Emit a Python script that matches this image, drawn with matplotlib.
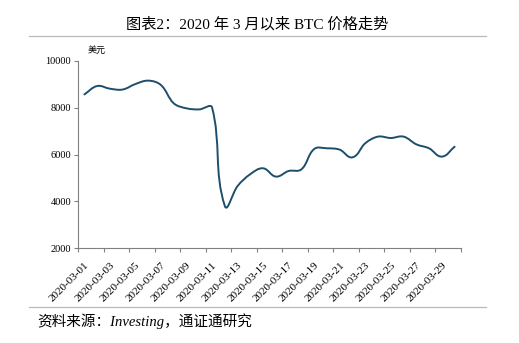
import matplotlib
matplotlib.use("Agg")
import matplotlib.pyplot as plt
from matplotlib.path import Path
from matplotlib.patches import PathPatch
import numpy as np

dates = ["2020-03-%02d" % d for d in range(1, 31)]
prices = [8570, 8930, 8815, 8780, 9015, 9160, 8970, 8190, 7975, 7930,
          8010, 3800, 4650, 5160, 5410, 5055, 5295, 5365, 6235, 6265,
          6206, 5880, 6480, 6765, 6705, 6765, 6435, 6265, 5910, 6335]
yticks = [2000, 4000, 6000, 8000, 10000]

title = "图表2：2020 年 3 月以来 BTC 价格走势"
unit = "美元"
source = "资料来源：Investing，通证通研究"

serif = ["Liberation Serif", "Noto Sans CJK SC"]
line_color = "#1d4e6b"
axis_color = "#808080"

fig = plt.figure(figsize=(5.19, 3.43), dpi=100)
ax = fig.add_axes([78/519, 1-248/343, 383/519, 187/343])

n = len(prices)
x = np.arange(n, dtype=float)
y = np.array(prices, dtype=float)

# Smoothed line: Bezier segments with tangents scaled to segment lengths
# (computed in screen-proportional units, like Excel's smoothed line)
sx, sy = 12.77, 187.0 / 8000.0
P = np.column_stack([x * sx, y * sy])
T = []
for i in range(n):
    a = P[max(i-1, 0)]
    b = P[min(i+1, n-1)]
    d = b - a
    T.append(d / np.linalg.norm(d))
T = np.array(T)
k = 0.36
verts = [(x[0], y[0])]
codes = [Path.MOVETO]
for i in range(n - 1):
    L = np.linalg.norm(P[i+1] - P[i])
    c1 = P[i] + T[i] * L * k
    c2 = P[i+1] - T[i+1] * L * k
    for c in (c1, c2):
        verts.append((c[0] / sx, c[1] / sy))
    verts.append((x[i+1], y[i+1]))
    codes += [Path.CURVE4] * 3
ax.add_patch(PathPatch(Path(verts, codes), facecolor="none",
                       edgecolor=line_color, lw=1.4, capstyle="round",
                       joinstyle="round"))

ax.set_xlim(-0.5, n - 0.5)
ax.set_ylim(2000, 10000)
ax.set_yticks(yticks)
ax.set_yticklabels([str(v) for v in yticks], family=serif, fontsize=7.5)

ax.set_xticks(x[::2])
ax.set_xticklabels(dates[::2], rotation=45, ha="right", va="top",
                   rotation_mode="anchor", family=serif, fontsize=8)
ax.set_xticks(np.arange(-0.5, n, 2), minor=True)
ax.tick_params(axis="x", which="major", length=0, pad=9)
ax.tick_params(axis="x", which="minor", length=3, color=axis_color, width=0.8)
ax.tick_params(axis="y", length=3, color=axis_color, width=0.8, pad=2)

for s in ["top", "right"]:
    ax.spines[s].set_visible(False)
for s in ["left", "bottom"]:
    ax.spines[s].set_color(axis_color)
    ax.spines[s].set_linewidth(0.8)

ax.text(0.026, 1.035, unit, transform=ax.transAxes, family=serif,
        fontsize=6.5, ha="left", va="bottom", style="italic")

fig.text(257/519, 1-24/343, title, family=serif, fontsize=11,
         ha="center", va="center")
fig.add_artist(plt.Line2D([29/519, 486/519], [1-36/343, 1-36/343],
                          color="#bbbbbb", lw=0.9))
fig.add_artist(plt.Line2D([29/519, 486/519], [1-307/343, 1-307/343],
                          color="#bbbbbb", lw=0.9))
fig.text(37/519, 1-321/343, source, family=serif, fontsize=10.5,
         ha="left", va="center", style="italic")

fig.savefig("out.png", dpi=100)
